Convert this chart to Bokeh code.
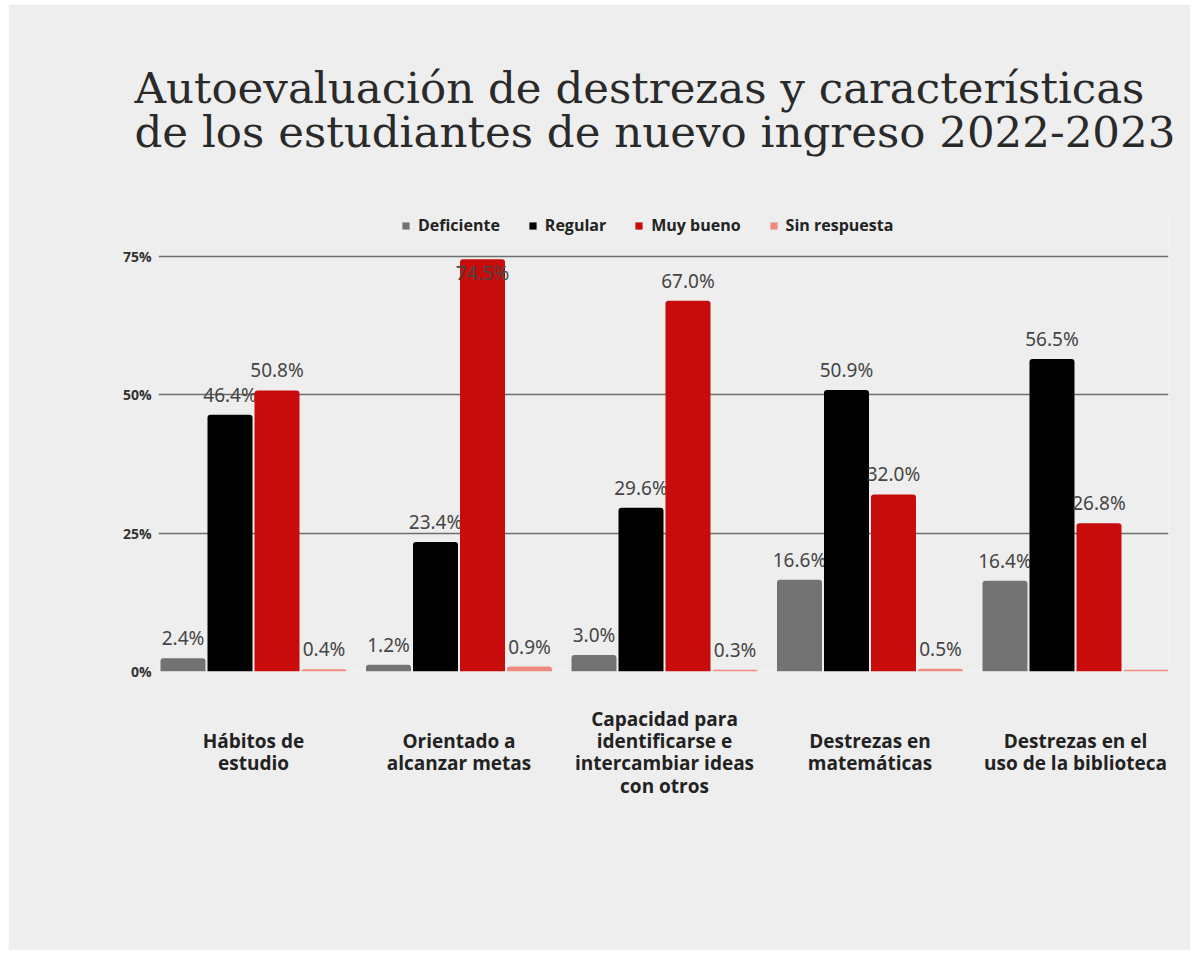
from bokeh.plotting import figure
from bokeh.models import Legend, LegendItem, Title, FixedTicker, ColumnDataSource
from bokeh.core.properties import value
from bokeh.embed import file_html
from bokeh.resources import INLINE

# ---- data ----
title_lines = ["Autoevaluación de destrezas y características",
               "de los estudiantes de nuevo ingreso 2022-2023"]
categories = ["Hábitos de\nestudio",
              "Orientado a\nalcanzar metas",
              "Capacidad para\nidentificarse e\nintercambiar ideas\ncon otros",
              "Destrezas en\nmatemáticas",
              "Destrezas en el\nuso de la biblioteca"]
series_names = ["Deficiente", "Regular", "Muy bueno", "Sin respuesta"]
deficiente = [2.4, 1.2, 3.0, 16.6, 16.4]
regular = [46.4, 23.4, 29.6, 50.9, 56.5]
muy_bueno = [50.8, 74.5, 67.0, 32.0, 26.8]
sin_respuesta = [0.4, 0.9, 0.3, 0.5, 0.3]
sin_respuesta_labels = ["0.4%", "0.9%", "0.3%", "0.5%", ""]
y_ticks = [0, 25, 50, 75]
y_tick_labels = ["0%", "25%", "50%", "75%"]

colors = ["#737373", "#000000", "#c80c0c", "#f08a80"]
series = [deficiente, regular, muy_bueno, sin_respuesta]
labels = [[f"{v:.1f}%" for v in deficiente],
          [f"{v:.1f}%" for v in regular],
          [f"{v:.1f}%" for v in muy_bueno],
          sin_respuesta_labels]

BG = "#eeeeee"
p = figure(width=1182, height=946, x_range=(-0.4623, 4.4526), y_range=(0, 83.32),
           output_backend="svg", toolbar_location=None,
           min_border_left=150, min_border_right=22, min_border_top=206, min_border_bottom=279,
           background_fill_color=BG, border_fill_color=BG)
p.margin = (4, 0, 0, 8)
p.outline_line_color = None

step = 0.2287
bw = 0.219
offsets = [-1.5 * step, -0.5 * step, 0.5 * step, 1.5 * step]
items = []
for s, (vals, name, col, labs, off) in enumerate(zip(series, series_names, colors, labels, offsets)):
    xs = [i + off for i in range(len(vals))]
    src = ColumnDataSource(dict(x=xs, top=vals))
    r = p.vbar(x="x", top="top", width=bw, source=src, fill_color=col, line_color=None,
               border_radius=(3, 3, 0, 0))
    items.append(LegendItem(label=name, renderers=[r]))
    base = ["top" if v > 72 else "bottom" for v in vals]
    yoff = [1 if v > 72 else -7 for v in vals]
    tsrc = ColumnDataSource(dict(x=xs, y=vals, t=labs, b=base, o=yoff))
    p.text(x="x", y="y", text="t", source=tsrc, text_align="center", text_baseline="b",
           y_offset="o", text_font=value("Noto Sans"), text_font_size="19px", text_color="#454545")

# x axis: category labels, vertically centred on the tallest one
n_max = max(c.count("\n") + 1 for c in categories)
def centred(c):
    n = c.count("\n") + 1
    return "\n" * ((n_max - n) // 2) + c
p.xaxis.ticker = FixedTicker(ticks=list(range(len(categories))))
p.xaxis.major_label_overrides = {i: centred(c) for i, c in enumerate(categories)}
p.xaxis.axis_line_color = None
p.xaxis.major_tick_line_color = None
p.xaxis.minor_tick_line_color = None
p.xaxis.major_tick_out = 0
p.xaxis.major_label_standoff = 34
p.xaxis.major_label_text_font = "Open Sans"
p.xaxis.major_label_text_font_style = "bold"
p.xaxis.major_label_text_font_size = "19px"
p.xaxis.major_label_text_color = "#222222"
p.xaxis.major_label_text_line_height = 0.86
p.xgrid.visible = False

# y axis
p.yaxis.ticker = FixedTicker(ticks=y_ticks)
p.yaxis.major_label_overrides = {t: l for t, l in zip(y_ticks, y_tick_labels)}
p.yaxis.axis_line_color = None
p.yaxis.major_tick_line_color = None
p.yaxis.minor_tick_line_color = None
p.yaxis.major_tick_out = 0
p.yaxis.major_label_standoff = 7
p.yaxis.major_label_text_font = "Open Sans"
p.yaxis.major_label_text_font_style = "bold"
p.yaxis.major_label_text_font_size = "14px"
p.yaxis.major_label_text_color = "#333333"
p.ygrid.ticker = FixedTicker(ticks=y_ticks)
p.ygrid.grid_line_color = "#6e6e6e"
p.ygrid.grid_line_width = 1.5

# legend (top of the frame, above the 75% line)
legend = Legend(items=items, orientation="horizontal", location=(243, 435),
                padding=0, margin=0, spacing=28, glyph_width=9, glyph_height=9,
                label_standoff=8, label_height=16,
                label_text_font="Open Sans", label_text_font_style="bold",
                label_text_font_size="16px", label_text_color="#222222",
                border_line_color=None, background_fill_alpha=0)
p.add_layout(legend, "center")

# title (two lines)
p.add_layout(Title(text="\n".join(title_lines), align="left", offset=-24, standoff=108,
                   text_font="DejaVu Serif", text_font_style="normal",
                   text_font_size="43.5px", text_color="#2a2a2a", text_line_height=0.88), "above")

open("out.html", "w").write(file_html(p, INLINE))
